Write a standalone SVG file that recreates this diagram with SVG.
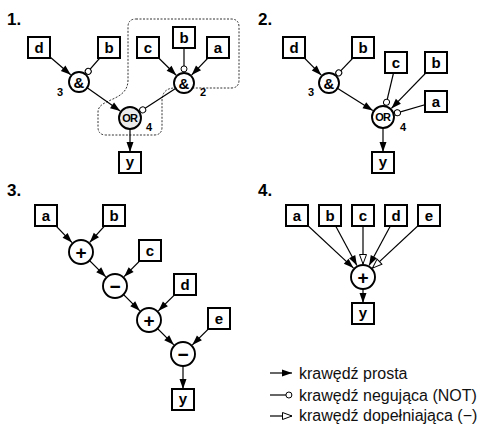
<svg xmlns="http://www.w3.org/2000/svg" width="479" height="424" viewBox="0 0 479 424">
<style>
.box{fill:#fff;stroke:#000;stroke-width:2}
.op{fill:#fff;stroke:#000;stroke-width:1.9}
.opg{fill:#ebebeb;stroke:#000;stroke-width:1.9}
.e{fill:none;stroke:#000;stroke-width:1.2}
.lbl{font-family:"Liberation Sans",Arial,sans-serif;font-weight:bold;font-size:15px;text-anchor:middle}
.sym{font-family:"Liberation Sans",Arial,sans-serif;font-weight:bold;font-size:19px;text-anchor:middle}
.or{font-family:"Liberation Sans",Arial,sans-serif;font-weight:bold;font-size:11px;text-anchor:middle;letter-spacing:-0.8px}
.num{font-family:"Liberation Sans",Arial,sans-serif;font-weight:bold;font-size:11px;text-anchor:middle}
.title{font-family:"Liberation Sans",Arial,sans-serif;font-weight:bold;font-size:17px}
.leg{font-family:"Liberation Sans",Arial,sans-serif;font-size:16px;fill:#111}
</style>
<defs>
<marker id="arr" markerUnits="userSpaceOnUse" markerWidth="10" markerHeight="8" refX="10" refY="3.5" orient="auto" overflow="visible">
<path d="M0,0 L10,3.5 L0,7 z" fill="#000"/>
</marker>
<marker id="neg" markerUnits="userSpaceOnUse" markerWidth="8" markerHeight="8" refX="6.6" refY="3.5" orient="auto" overflow="visible">
<circle cx="3.5" cy="3.5" r="3" fill="#fff" stroke="#000" stroke-width="1"/>
</marker>
<marker id="opn" markerUnits="userSpaceOnUse" markerWidth="11" markerHeight="9" refX="10" refY="4" orient="auto" overflow="visible">
<path d="M0.5,0.5 L10,4 L0.5,7.5 z" fill="#fff" stroke="#000" stroke-width="1"/>
</marker>
</defs>

<text class="title" x="7" y="25">1.</text>
<text class="title" x="258" y="25">2.</text>
<text class="title" x="7" y="196">3.</text>
<text class="title" x="258" y="196">4.</text>

<path id="region" d="M136,19 H231 Q239,19 239,27 V80 Q239,88 231,88 H175 Q162,88 162,101 V127 Q162,135 154,135 H106 Q98,135 98,127 V112 C98,98 128,102 128,80 V27 Q128,19 136,19 Z" fill="none" stroke="#333" stroke-width="1" stroke-dasharray="2,1.5"/>

<g id="connectors">
<!-- panel 1 -->
<line class="e" x1="39" y1="47.5" x2="70.7" y2="74.8" marker-end="url(#arr)"/>
<line class="e" x1="109" y1="47.5" x2="86.2" y2="73.7" marker-end="url(#neg)"/>
<line class="e" x1="79" y1="82" x2="120.2" y2="111.1" marker-end="url(#arr)"/>
<line class="e" x1="148" y1="47.5" x2="176.2" y2="75.3" marker-end="url(#arr)"/>
<line class="e" x1="184" y1="37.5" x2="184" y2="72" marker-end="url(#neg)"/>
<line class="e" x1="218" y1="47.5" x2="191.6" y2="75.1" marker-end="url(#arr)"/>
<line class="e" x1="184" y1="83" x2="140.1" y2="111.5" marker-end="url(#neg)"/>
<line class="e" x1="130" y1="118" x2="130" y2="152" marker-end="url(#arr)"/>
<!-- panel 2 -->
<line class="e" x1="294" y1="47.5" x2="321.3" y2="75.2" marker-end="url(#arr)"/>
<line class="e" x1="363" y1="47.5" x2="336.6" y2="75.1" marker-end="url(#neg)"/>
<line class="e" x1="329" y1="83" x2="372.8" y2="110.6" marker-end="url(#arr)"/>
<line class="e" x1="396" y1="62.5" x2="385.8" y2="105.3" marker-end="url(#neg)"/>
<line class="e" x1="436" y1="62.5" x2="391.4" y2="108.4" marker-end="url(#arr)"/>
<line class="e" x1="436" y1="101.5" x2="394.5" y2="113.6" marker-end="url(#neg)"/>
<line class="e" x1="383" y1="117" x2="383" y2="152" marker-end="url(#arr)"/>
<!-- panel 3 -->
<line class="e" x1="46" y1="215.5" x2="72" y2="242.6" marker-end="url(#arr)"/>
<line class="e" x1="114" y1="215.5" x2="89.7" y2="242.4" marker-end="url(#arr)"/>
<line class="e" x1="81" y1="252" x2="105.8" y2="276.8" marker-end="url(#arr)"/>
<line class="e" x1="150" y1="250.5" x2="124.1" y2="276.7" marker-end="url(#arr)"/>
<line class="e" x1="115" y1="286" x2="139.8" y2="310.8" marker-end="url(#arr)"/>
<line class="e" x1="185" y1="284.5" x2="158.3" y2="310.9" marker-end="url(#arr)"/>
<line class="e" x1="149" y1="320" x2="173.8" y2="344.8" marker-end="url(#arr)"/>
<line class="e" x1="219" y1="318.5" x2="192.3" y2="344.9" marker-end="url(#arr)"/>
<line class="e" x1="183" y1="354" x2="183" y2="389" marker-end="url(#arr)"/>
<!-- panel 4 -->
<line class="e" x1="297" y1="215.5" x2="353.5" y2="268.1" marker-end="url(#arr)"/>
<line class="e" x1="330" y1="215.5" x2="356.9" y2="265.5" marker-end="url(#arr)"/>
<line class="e" x1="363" y1="215.5" x2="363" y2="264" marker-end="url(#opn)"/>
<line class="e" x1="396" y1="215.5" x2="369.1" y2="265.5" marker-end="url(#arr)"/>
<line class="e" x1="429" y1="215.5" x2="372.5" y2="268.1" marker-end="url(#opn)"/>
<line class="e" x1="363" y1="277" x2="363" y2="303" marker-end="url(#arr)"/>
</g>

<!-- panel 1 nodes -->
<g id="p1-d"><rect class="box" x="28" y="37" width="22" height="21"/><text class="lbl" x="39" y="53">d</text></g>
<g id="p1-b1"><rect class="box" x="98" y="37" width="22" height="21"/><text class="lbl" x="109" y="53">b</text></g>
<g id="p1-and3"><circle class="op" cx="79" cy="82" r="10"/><text class="lbl" x="79" y="87.5">&amp;</text><text class="num" x="60" y="96">3</text></g>
<g id="p1-c"><rect class="box" x="137" y="37" width="22" height="21"/><text class="lbl" x="148" y="53">c</text></g>
<g id="p1-b2"><rect class="box" x="173" y="27" width="22" height="21"/><text class="lbl" x="184" y="43">b</text></g>
<g id="p1-a"><rect class="box" x="207" y="37" width="22" height="21"/><text class="lbl" x="218" y="53">a</text></g>
<g id="p1-and2"><circle class="op" cx="184" cy="83" r="10"/><text class="lbl" x="184" y="88.5">&amp;</text><text class="num" x="203" y="96">2</text></g>
<g id="p1-or"><circle class="opg" cx="130" cy="118" r="11"/><text class="or" x="129.6" y="122">OR</text><text class="num" x="149" y="131">4</text></g>
<g id="p1-y"><rect class="box" x="119" y="152" width="22" height="21"/><text class="lbl" x="130" y="167">y</text></g>

<!-- panel 2 nodes -->
<g id="p2-d"><rect class="box" x="283" y="37" width="22" height="21"/><text class="lbl" x="294" y="53">d</text></g>
<g id="p2-b1"><rect class="box" x="352" y="37" width="22" height="21"/><text class="lbl" x="363" y="53">b</text></g>
<g id="p2-and3"><circle class="op" cx="329" cy="83" r="10"/><text class="lbl" x="329" y="88.5">&amp;</text><text class="num" x="311" y="96">3</text></g>
<g id="p2-c"><rect class="box" x="385" y="52" width="22" height="21"/><text class="lbl" x="396" y="68">c</text></g>
<g id="p2-b2"><rect class="box" x="425" y="52" width="22" height="21"/><text class="lbl" x="436" y="68">b</text></g>
<g id="p2-a"><rect class="box" x="425" y="91" width="22" height="21"/><text class="lbl" x="436" y="107">a</text></g>
<g id="p2-or"><circle class="op" cx="383" cy="117" r="11"/><text class="or" x="382.6" y="121">OR</text><text class="num" x="403" y="131">4</text></g>
<g id="p2-y"><rect class="box" x="372" y="152" width="22" height="21"/><text class="lbl" x="383" y="167">y</text></g>

<!-- panel 3 nodes -->
<g id="p3-a"><rect class="box" x="35" y="205" width="22" height="21"/><text class="lbl" x="46" y="221">a</text></g>
<g id="p3-b"><rect class="box" x="103" y="205" width="22" height="21"/><text class="lbl" x="114" y="221">b</text></g>
<g id="p3-plus1"><circle class="op" cx="81" cy="252" r="12"/><text class="sym" x="81" y="258.5">+</text></g>
<g id="p3-c"><rect class="box" x="139" y="240" width="22" height="21"/><text class="lbl" x="150" y="256">c</text></g>
<g id="p3-minus1"><circle class="op" cx="115" cy="286" r="12"/><text class="sym" x="115" y="292.5">−</text></g>
<g id="p3-d"><rect class="box" x="174" y="274" width="22" height="21"/><text class="lbl" x="185" y="290">d</text></g>
<g id="p3-plus2"><circle class="op" cx="149" cy="320" r="12"/><text class="sym" x="149" y="326.5">+</text></g>
<g id="p3-e"><rect class="box" x="208" y="308" width="22" height="21"/><text class="lbl" x="219" y="324">e</text></g>
<g id="p3-minus2"><circle class="op" cx="183" cy="354" r="12"/><text class="sym" x="183" y="360.5">−</text></g>
<g id="p3-y"><rect class="box" x="172" y="389" width="22" height="21"/><text class="lbl" x="183" y="404">y</text></g>

<!-- panel 4 nodes -->
<g id="p4-a"><rect class="box" x="286" y="205" width="22" height="21"/><text class="lbl" x="297" y="221">a</text></g>
<g id="p4-b"><rect class="box" x="319" y="205" width="22" height="21"/><text class="lbl" x="330" y="221">b</text></g>
<g id="p4-c"><rect class="box" x="352" y="205" width="22" height="21"/><text class="lbl" x="363" y="221">c</text></g>
<g id="p4-d"><rect class="box" x="385" y="205" width="22" height="21"/><text class="lbl" x="396" y="221">d</text></g>
<g id="p4-e"><rect class="box" x="418" y="205" width="22" height="21"/><text class="lbl" x="429" y="221">e</text></g>
<g id="p4-plus"><circle class="op" cx="363" cy="277" r="12"/><text class="sym" x="363" y="283.5">+</text></g>
<g id="p4-y"><rect class="box" x="352" y="303" width="22" height="21"/><text class="lbl" x="363" y="318">y</text></g>

<!-- legend -->
<g id="legend">
<line class="e" x1="270" y1="373" x2="292" y2="373" marker-end="url(#arr)"/>
<line class="e" x1="270" y1="395" x2="292" y2="395" marker-end="url(#neg)"/>
<line class="e" x1="270" y1="416" x2="292" y2="416" marker-end="url(#opn)"/>
<text class="leg" x="299" y="378.5">krawędź prosta</text>
<text class="leg" x="299" y="400.5">krawędź negująca (NOT)</text>
<text class="leg" x="299" y="421">krawędź dopełniająca (−)</text>
</g>
</svg>
